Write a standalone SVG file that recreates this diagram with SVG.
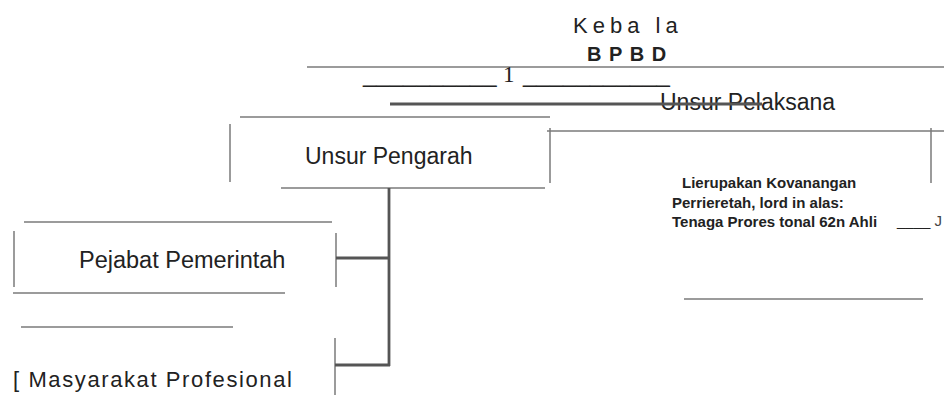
<svg xmlns="http://www.w3.org/2000/svg" width="944" height="395" viewBox="0 0 944 395">
<style>
  .t { font-family: "Liberation Sans", Arial, sans-serif; fill: #222; }
  .thin { stroke: #7a7a7a; stroke-width: 1.5; fill: none; }
  .thick { stroke: #555; stroke-width: 2.8; fill: none; }
  .blk { font-family: "Liberation Sans", Arial, sans-serif; font-weight: bold; font-size: 15px; fill: #222; }
</style>
<rect width="944" height="395" fill="#fff"/>

<g id="node-kepala">
  <text class="t" x="573" y="33" font-size="22" letter-spacing="5">Keba la</text>
  <text class="t" x="587" y="61" font-size="20" font-weight="bold" letter-spacing="7.5">BPBD</text>
  <line class="thin" x1="307" y1="67" x2="944" y2="67"/>
  <text class="t" y="82" font-size="24" fill="#333"><tspan x="363">__________</tspan><tspan x="503" font-family="Liberation Serif, serif" font-size="23">1</tspan><tspan x="523">___________</tspan></text>
</g>

<g id="node-unsur-pelaksana">
  <text class="t" x="660" y="110" font-size="23">Unsur Pelaksana</text>
  <line class="thin" x1="547" y1="131" x2="944" y2="131"/>
  <line class="thin" x1="550" y1="128" x2="550" y2="183"/>
  <line class="thin" x1="931" y1="128" x2="931" y2="183"/>
  <text class="blk" x="682" y="188">Lierupakan Kovanangan</text>
  <text class="blk" x="672" y="208">Perrieretah, lord in alas:</text>
  <text class="blk" x="672" y="227">Tenaga Prores tonal 62n Ahli</text>
  <text class="t" x="897" y="226" font-size="15" fill="#888">____ <tspan fill="#444">J</tspan></text>
  <line class="thin" x1="684" y1="299" x2="923" y2="299"/>
</g>

<g id="node-unsur-pengarah">
  <line class="thin" x1="240" y1="117" x2="550" y2="117"/>
  <line class="thin" x1="230" y1="124" x2="230" y2="182"/>
  <line class="thin" x1="281" y1="188" x2="545" y2="188"/>
  <text class="t" x="305" y="164" font-size="23">Unsur Pengarah</text>
</g>

<g id="node-pejabat-pemerintah">
  <line class="thin" x1="24" y1="222" x2="332" y2="222"/>
  <line class="thin" x1="14" y1="231" x2="14" y2="287"/>
  <line class="thin" x1="336" y1="233" x2="336" y2="287"/>
  <line class="thin" x1="13" y1="293" x2="285" y2="293"/>
  <text class="t" x="79" y="268" font-size="23.5">Pejabat Pemerintah</text>
</g>

<g id="node-masyarakat-profesional">
  <line class="thin" x1="21" y1="327" x2="233" y2="327"/>
  <line class="thin" x1="335" y1="338" x2="335" y2="395"/>
  <text class="t" x="13" y="387" font-size="22" letter-spacing="1.6">[ Masyarakat Profesional</text>
</g>

<g id="connectors">
  <line class="thick" x1="390" y1="104" x2="762" y2="104"/>
  <line class="thick" x1="389" y1="188" x2="389" y2="366"/>
  <line class="thick" x1="336" y1="258" x2="390" y2="258"/>
  <line class="thick" x1="335" y1="365" x2="390" y2="365"/>
</g>
</svg>
